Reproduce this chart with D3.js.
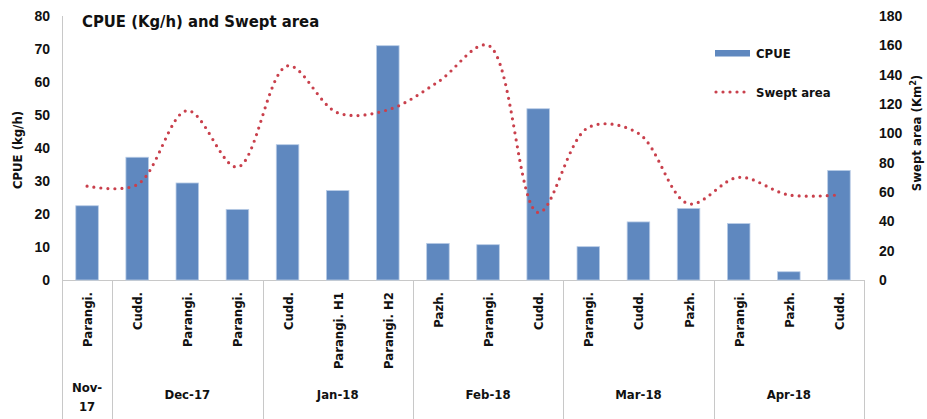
<!DOCTYPE html>
<html>
<head>
<meta charset="utf-8">
<script src="https://cdn.jsdelivr.net/npm/d3@7"></script>
<style>
  body { margin: 0; background: #fff; }
  svg { display: block; font-family: "DejaVu Sans Condensed", "DejaVu Sans", sans-serif; font-weight: bold; }
</style>
</head>
<body>
<svg id="chart" width="927" height="419"></svg>
<script>
// Landing sites, grouped by month
const sites = ["Parangi.", "Cudd.", "Parangi.", "Parangi.", "Cudd.", "Parangi. H1", "Parangi. H2",
               "Pazh.", "Parangi.", "Cudd.", "Parangi.", "Cudd.", "Pazh.", "Parangi.", "Pazh.", "Cudd."];
const months = [["Nov-", "17"], ["Dec-17"], ["Jan-18"], ["Feb-18"], ["Mar-18"], ["Apr-18"]];
const monthSizes = [1, 3, 3, 3, 3, 3];
// CPUE (kg/h), left axis
const cpue = [22.5, 37.2, 29.4, 21.4, 41.0, 27.1, 71.0, 11.1, 10.7, 51.9, 10.1, 17.6, 21.7, 17.1, 2.5, 33.2];
// Swept area (km²), right axis
const swept = [64, 65, 115.5, 77, 146, 114, 116, 135, 160, 46, 104, 100, 52, 70, 58, 58];
const leftTicks = [0, 10, 20, 30, 40, 50, 60, 70, 80];
const rightTicks = [0, 20, 40, 60, 80, 100, 120, 140, 160, 180];

const svg = d3.select("#chart");
const x0 = 62, x1 = 864, yTop = 16, yBase = 280;
const idx = d3.range(sites.length);

const x = d3.scaleBand().domain(idx).range([x0, x1]).paddingInner(0.55).paddingOuter(0.275);
const yL = d3.scaleLinear().domain([0, 80]).range([yBase, yTop]);
const yR = d3.scaleLinear().domain([0, 180]).range([yBase, yTop]);
const cx = i => x(i) + x.bandwidth() / 2;
const step = x.step();

const grid = "#c8c8c8";

// Left axis (labels only, plus a light vertical line)
const leftAxis = svg.append("g").attr("transform", `translate(${x0},0)`)
  .call(d3.axisLeft(yL).tickValues(leftTicks).tickSize(0).tickPadding(12));
leftAxis.select(".domain").remove();
leftAxis.selectAll("text").attr("font-size", 14).attr("fill", "#111").attr("font-family", null);
svg.append("line").attr("x1", x0 + 0.5).attr("x2", x0 + 0.5).attr("y1", yTop).attr("y2", 419)
  .attr("stroke", grid);

// Right axis
const rightAxis = svg.append("g").attr("transform", `translate(${x1},0)`)
  .call(d3.axisRight(yR).tickValues(rightTicks).tickSize(0).tickPadding(15));
rightAxis.select(".domain").remove();
rightAxis.selectAll("text").attr("font-size", 14).attr("fill", "#111").attr("font-family", null);

// Axis titles
svg.append("text").attr("transform", `translate(22,${(yTop + yBase) / 2 + 2}) rotate(-90)`)
  .attr("text-anchor", "middle").attr("font-size", 13).attr("fill", "#111").text("CPUE (kg/h)");
const rt = svg.append("text").attr("transform", `translate(921,${(yTop + yBase) / 2 - 15}) rotate(-90)`)
  .attr("text-anchor", "middle").attr("font-size", 13).attr("fill", "#111");
rt.append("tspan").text("Swept area (Km");
rt.append("tspan").attr("font-size", 9).attr("dy", -5).text("2");
rt.append("tspan").attr("dy", 5).text(")");

// Baseline
svg.append("line").attr("x1", x0).attr("x2", x1).attr("y1", yBase + 0.5).attr("y2", yBase + 0.5)
  .attr("stroke", grid);

// Bars
svg.append("g").selectAll("rect").data(cpue).join("rect")
  .attr("x", (d, i) => x(i)).attr("width", x.bandwidth())
  .attr("y", d => yL(d)).attr("height", d => yBase - yL(d))
  .attr("fill", "#5f88bf").attr("stroke", "#b9cce6").attr("stroke-width", 0.8);

// Swept area smooth dotted line
const line = d3.line().x((d, i) => cx(i)).y(d => yR(d)).curve(d3.curveCatmullRom.alpha(0.5));
svg.append("path").attr("d", line(swept)).attr("fill", "none")
  .attr("stroke", "#c9404c").attr("stroke-width", 3.2).attr("stroke-linecap", "round")
  .attr("stroke-dasharray", "0 7");

// Site labels (rotated)
svg.append("g").selectAll("text").data(sites).join("text")
  .attr("transform", (d, i) => `translate(${cx(i) + 5},292) rotate(-90)`)
  .attr("text-anchor", "end").attr("font-size", 13).attr("fill", "#111").text(d => d);

// Month group separators and labels
let start = 0;
const bounds = [0];
monthSizes.forEach(n => { start += n; bounds.push(start); });
svg.append("g").selectAll("line").data(bounds.slice(1)).join("line")
  .attr("x1", b => Math.round(x0 + b * step) + 0.5).attr("x2", b => Math.round(x0 + b * step) + 0.5)
  .attr("y1", yBase).attr("y2", 419).attr("stroke", grid);
months.forEach((m, k) => {
  const mid = x0 + (bounds[k] + bounds[k + 1]) / 2 * step;
  const t = svg.append("text").attr("text-anchor", "middle").attr("font-size", 13).attr("fill", "#111");
  if (m.length === 1) {
    t.attr("x", mid).attr("y", 399).text(m[0]);
  } else {
    m.forEach((s, j) => t.append("tspan").attr("x", mid).attr("y", 392 + j * 19).text(s));
  }
});

// Title
svg.append("text").attr("x", 82).attr("y", 27).attr("font-size", 16.5).attr("fill", "#111")
  .text("CPUE (Kg/h) and Swept area");

// Legend
const lg = svg.append("g");
lg.append("rect").attr("x", 715).attr("y", 50).attr("width", 35).attr("height", 6.5).attr("fill", "#5f88bf");
lg.append("text").attr("x", 756).attr("y", 58).attr("font-size", 13).attr("fill", "#111").text("CPUE");
lg.append("line").attr("x1", 716).attr("x2", 750).attr("y1", 92).attr("y2", 92)
  .attr("stroke", "#c9404c").attr("stroke-width", 3.2).attr("stroke-linecap", "round")
  .attr("stroke-dasharray", "0 7");
lg.append("text").attr("x", 756).attr("y", 97).attr("font-size", 13).attr("fill", "#111").text("Swept area");
</script>
</body>
</html>
